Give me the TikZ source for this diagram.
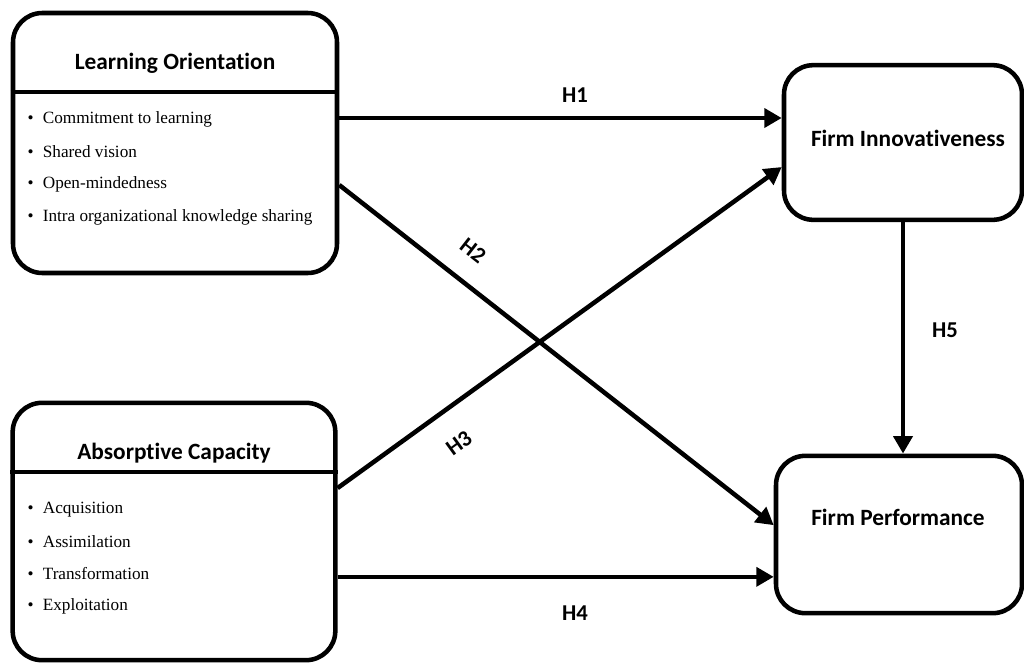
\documentclass[tikz,border=0pt]{standalone}
\usepackage{fontspec}
\setmainfont{Liberation Serif}
\newfontfamily\headfont[Ligatures=NoCommon]{Carlito}
\usetikzlibrary{arrows.meta,shadows}

\tikzset{every picture/.style={line width=0.75pt}}
\tikzset{
  bigbox/.style={draw, line width=3.4pt, rounded corners=22pt, fill=white,
    drop shadow={opacity=0.2, shadow xshift=1pt, shadow yshift=-1pt}},
  boxtitle/.style={font=\headfont\bfseries\fontsize{17.5}{20}\selectfont},
  bulletitem/.style={anchor=west, inner sep=0pt, font=\fontsize{12.9}{15}\selectfont},
  seprule/.style={line width=2.5pt},
  hyp/.style={line width=3.4pt, -{Triangle[length=13pt,width=14pt]}},
  hyplabel/.style={font=\headfont\bfseries\fontsize{17}{20}\selectfont}
}

\begin{document}
\begin{tikzpicture}[x=0.75pt,y=0.75pt,yscale=-1]
	\useasboundingbox (0,0) rectangle (1024,664);

	%Rounded Rect [Learning Orientation]
	\node[bigbox, minimum width=243pt, minimum height=195pt] (lo) at (175,143) {};
	\coordinate (losep) at (0,92);
	\draw[seprule] (lo.west |- losep) -- (lo.east |- losep);
	%Rounded Rect [Absorptive Capacity]
	\node[bigbox, minimum width=242pt, minimum height=193pt] (ac) at (174,531.5) {};
	\coordinate (acsep) at (0,472);
	\draw[seprule] (ac.west |- acsep) -- (ac.east |- acsep);
	%Rounded Rect [Firm Innovativeness]
	\node[bigbox, minimum width=178.5pt, minimum height=116pt] (fi) at (903,142.5) {};
	%Rounded Rect [Firm Performance]
	\node[bigbox, minimum width=184.5pt, minimum height=118pt] (fp) at (899,534.5) {};

	% Text Node
	\node[boxtitle] (lotitle) at (175,63) {Learning Orientation};
	\node[bulletitem] (lo1) at (27,119) {\textbullet\hspace{7pt}Commitment to learning};
	\node[bulletitem] (lo2) at (27,152) {\textbullet\hspace{7pt}Shared vision};
	\node[bulletitem] (lo3) at (27,184) {\textbullet\hspace{7pt}Open-mindedness};
	\node[bulletitem] (lo4) at (27,217) {\textbullet\hspace{7pt}Intra organizational knowledge sharing};
	% Text Node
	\node[boxtitle] (actitle) at (174,453) {Absorptive Capacity};
	\node[bulletitem] (ac1) at (27,510) {\textbullet\hspace{7pt}Acquisition};
	\node[bulletitem] (ac2) at (27,542) {\textbullet\hspace{7pt}Assimilation};
	\node[bulletitem] (ac3) at (27,574) {\textbullet\hspace{7pt}Transformation};
	\node[bulletitem] (ac4) at (27,606) {\textbullet\hspace{7pt}Exploitation};
	% Text Node
	\node[boxtitle] (fitext) at (908,138) {Firm Innovativeness};
	\node[boxtitle] (fptext) at (898,517) {Firm Performance};

	%Straight Lines [H1]
	\draw[hyp] ([yshift=-18.75pt]lo.east) coordinate (h1s) -- (h1s -| fi.west);
	%Straight Lines [H2]
	\draw[hyp] ([yshift=31.5pt]lo.east) -- ([yshift=-7pt]fp.west);
	%Straight Lines [H3]
	\draw[hyp] ([yshift=-32.6pt]ac.east) -- ([yshift=18.4pt]fi.west);
	%Straight Lines [H4]
	\draw[hyp] ([yshift=34pt]ac.east) coordinate (h4s) -- (h4s -| fp.west);
	%Straight Lines [H5]
	\draw[hyp] (fi.south) -- (fi.south |- fp.north);

	% Text Node
	\node[hyplabel] (h1lab) at (575,95) {H1};
	\node[hyplabel, rotate=-38] (h2lab) at (473,251) {H2};
	\node[hyplabel, rotate=36] (h3lab) at (459,443) {H3};
	\node[hyplabel] (h4lab) at (575,613) {H4};
	\node[hyplabel] (h5lab) at (945,330) {H5};

\end{tikzpicture}
\end{document}
